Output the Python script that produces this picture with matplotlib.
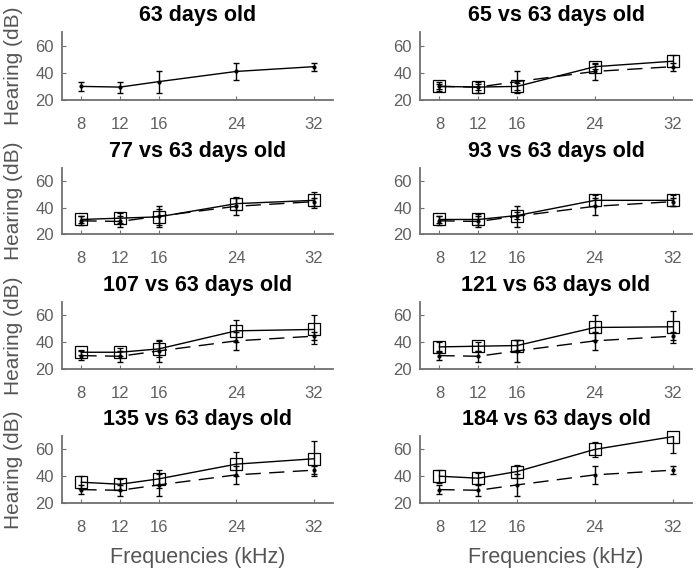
import matplotlib
matplotlib.use("Agg")
import matplotlib.pyplot as plt

plt.rcParams["font.family"] = ["Liberation Sans", "DejaVu Sans"]

# frequencies and the 63-day baseline (mean, sd)
freqs = [8, 12, 16, 24, 32]
base_mean = [30, 29.5, 33.5, 41, 44.5]
base_err = [3.5, 4, 8, 6.5, 3]

ages = [65, 77, 93, 107, 121, 135, 184]
mean_65 = [30, 29.5, 30, 44.5, 48.5]
err_65 = [2, 2, 2.5, 2, 4.5]
mean_77 = [31, 32, 33, 43, 45.5]
err_77 = [3, 4, 6, 5, 6]
mean_93 = [31, 31, 34, 45.5, 45.5]
err_93 = [2.5, 4, 3, 4, 4]
mean_107 = [32.5, 32.5, 35, 48.5, 49.5]
err_107 = [2, 3, 6, 8, 11]
mean_121 = [36.5, 37, 37.5, 51, 51.5]
err_121 = [4, 3.5, 4, 9, 12]
mean_135 = [35.5, 34, 38, 49, 53]
err_135 = [5, 4, 7, 9, 13]
mean_184 = [40, 38.5, 43.5, 60, 69.5]
err_184 = [5, 4, 4.5, 5.5, 12.5]

group_means = [mean_65, mean_77, mean_93, mean_107, mean_121, mean_135, mean_184]
group_errs = [err_65, err_77, err_93, err_107, err_121, err_135, err_184]

GRAY = "#707070"
W, H = 698, 574
col_x = [(62, 333), (420, 692)]
row_y = [(32, 100), (168, 234), (302, 369), (436, 503)]

fig = plt.figure(figsize=(W / 100, H / 100), dpi=100)


def style(ax, row, col):
    for s in ("top", "right"):
        ax.spines[s].set_visible(False)
    for s in ("left", "bottom"):
        ax.spines[s].set_color(GRAY)
        ax.spines[s].set_linewidth(1.3)
    ax.set_xlim(6, 34)
    ax.set_ylim(20, 70)
    ax.set_xticks(freqs)
    ax.set_yticks([20, 40, 60])
    ax.tick_params(direction="in", length=3, width=0.8, color=GRAY,
                   labelcolor="#606060", labelsize=12)
    ax.tick_params(axis="y", pad=6)
    ax.tick_params(axis="x", pad=12)
    if col == 0:
        ax.set_ylabel("Hearing (dB)", fontsize=15, color="#555555")
        ax.yaxis.set_label_coords(-0.145, 0.5)
    if row == 3:
        ax.set_xlabel("Frequencies (kHz)", fontsize=15.5, color="#555555", labelpad=9)


for k in range(8):
    row, col = divmod(k, 2)
    x0, x1 = col_x[col]
    y0, y1 = row_y[row]
    ax = fig.add_axes([x0 / W, 1 - y1 / H, (x1 - x0) / W, (y1 - y0) / H])
    style(ax, row, col)
    if k == 0:
        ax.errorbar(freqs, base_mean, yerr=base_err, fmt="-", marker=".", ms=4,
                    color="black", lw=1, capsize=2, elinewidth=1)
        ax.set_title("63 days old", fontsize=15.5, fontweight="bold", pad=8)
    else:
        ax.errorbar(freqs, base_mean, yerr=base_err, fmt="none",
                    color="black", capsize=2, elinewidth=1)
        ax.plot(freqs, base_mean, color="black", lw=1, ls=(0, (11, 6)),
                marker=".", ms=4)
        grp = ax.errorbar(freqs, group_means[k - 1], yerr=group_errs[k - 1], fmt="-",
                          marker="s", ms=8, mfc="none", mec="black", mew=0.9,
                          color="black", lw=1, capsize=2, elinewidth=1)
        # squares near the top edge stay whole, the bars are cut at the axes
        grp.lines[0].set_clip_on(False)
        ax.set_title(f"{ages[k - 1]} vs 63 days old", fontsize=15.5,
                     fontweight="bold", pad=8)

fig.savefig("out.png", dpi=100)
